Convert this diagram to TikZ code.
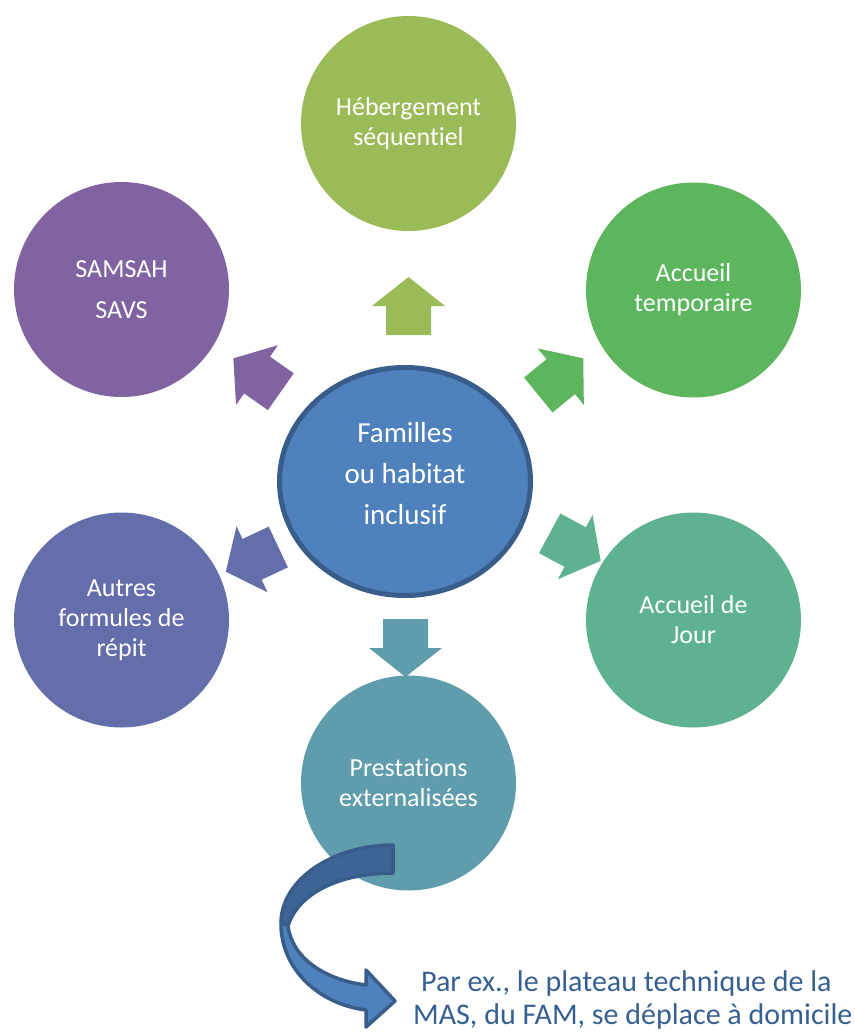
\documentclass[tikz,border=0pt]{standalone}
\usepackage{fontspec}
\setmainfont{Carlito}[Ligatures={NoCommon}]
\usetikzlibrary{shapes.geometric}
\definecolor{cHeb}{HTML}{9BBB59}
\definecolor{cTemp}{HTML}{5DB65D}
\definecolor{cJour}{HTML}{5EB290}
\definecolor{cPrest}{HTML}{5F9DAC}
\definecolor{cAutres}{HTML}{636EAA}
\definecolor{cSam}{HTML}{8064A2}
\definecolor{cCenter}{HTML}{4F81BD}
\definecolor{cBorder}{HTML}{385D8A}
\definecolor{cDark}{HTML}{3E6496}
\definecolor{cNote}{HTML}{376092}
\newcommand\myarrow[4]{%
  \fill[#4, shift={(#1,#2)}, rotate=#3] (0,-22.5) -- (29,-22.5) -- (29,-36.5) -- (58,0) -- (29,36.5) -- (29,22.5) -- (0,22.5) -- cycle;}
\begin{document}
\begin{tikzpicture}[x=1pt,y=-1pt,
  circ/.style={circle, minimum size=215pt, inner sep=0pt, text=white, align=center, font=\fontsize{26}{30}\selectfont},
  centre/.style={ellipse, minimum width=251pt, minimum height=228pt, inner sep=0pt, fill=cCenter, draw=cBorder, line width=5pt},
  ctext/.style={text=white, align=center, font=\fontsize{29}{41}\selectfont, inner sep=0pt},
  note/.style={text=cNote, font=\fontsize{30}{35}\selectfont, inner sep=0pt, anchor=base west},
  curv/.style={draw=cBorder, line width=3.5pt, line join=round}]
\useasboundingbox (0,0) rectangle (854,1032);
% outer circles
\node[circ, fill=cHeb]    (heb)    at (408.5,123.5) {Hébergement\\séquentiel};
\node[circ, fill=cTemp]   (temp)   at (693.5,290)   {Accueil\\temporaire};
\node[circ, fill=cJour]   (jour)   at (693.5,620)   {Accueil de\\Jour};
\node[circ, fill=cPrest]  (prest)  at (408.5,783)   {Prestations\\externalisées};
\node[circ, fill=cAutres] (autres) at (121.5,620)   {Autres\\formules de\\répit};
\node[circ, fill=cSam, font=\fontsize{26}{41}\selectfont] (sam) at (121.5,289.5) {SAMSAH\\SAVS};
% centre
\node[centre] (c) at (405,481.5) {};
\node[ctext] (ct) at (405,474) {Familles\\ou habitat\\inclusif};
% block arrows
\myarrow{408.5}{335}{90}{cHeb}
\myarrow{538.3}{395}{39.2}{cTemp}
\myarrow{549.7}{533.3}{-28.4}{cJour}
\myarrow{405.5}{619}{-90}{cPrest}
\myarrow{278.3}{547}{205.2}{cAutres}
\myarrow{280.8}{391.7}{144.9}{cSam}
% curved arrow
\filldraw[curv, fill=cDark] (393,845) .. controls (335,845) and (282,878) .. (281,922)
  -- (288,926) .. controls (298,893) and (340,873) .. (393,873) -- cycle;
\filldraw[curv, fill=cCenter] (281,922) .. controls (280,968) and (318,1004) .. (366,1010)
  -- (366,1027) -- (395,1001) -- (366,970) -- (366,985)
  .. controls (325,980) and (292,958) .. (288,926) -- cycle;
% note
\node[note] (t1) at (421,991) {Par ex., le plateau technique de la};
\node[note] (t2) at (413,1024) {MAS, du FAM, se déplace à domicile};
\end{tikzpicture}
\end{document}
